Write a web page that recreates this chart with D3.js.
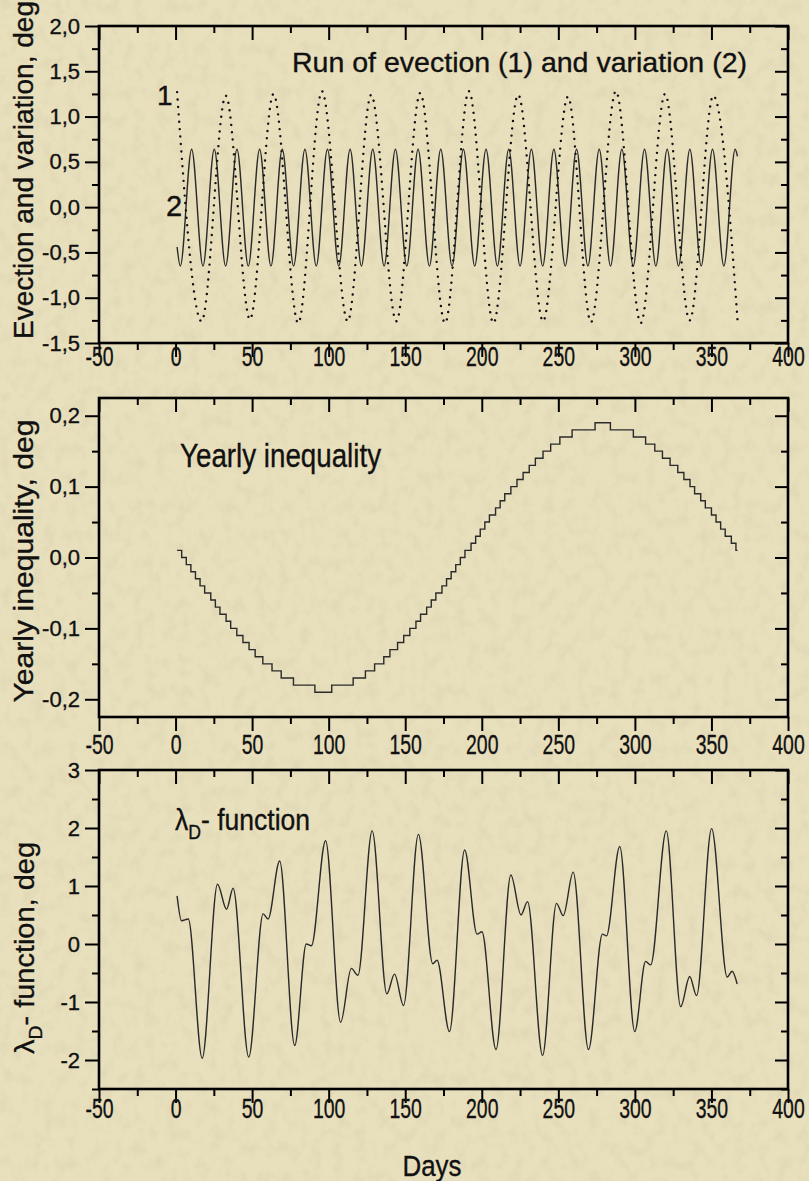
<!DOCTYPE html>
<html>
<head>
<meta charset="utf-8">
<script src="https://cdn.jsdelivr.net/npm/d3@7"></script>
<style>
  html, body { margin: 0; padding: 0; background: #e6ddb8; }
  svg { display: block; }
  text { font-family: "Liberation Sans", Arial, sans-serif; fill: #111; stroke: #111; stroke-width: 0.35px; }
</style>
</head>
<body>
<svg id="chart" width="809" height="1181"></svg>
<script>
// ---- axis ticks ----
const dayTicks = [-50, 0, 50, 100, 150, 200, 250, 300, 350, 400];
const dayMinorTicks = [-25, 25, 75, 125, 175, 225, 275, 325, 375];
const evectionTicks = [-1.5, -1.0, -0.5, 0.0, 0.5, 1.0, 1.5, 2.0];
const evectionMinorTicks = [-1.25, -0.75, -0.25, 0.25, 0.75, 1.25, 1.75];
const yearlyTicks = [-0.2, -0.1, 0.0, 0.1, 0.2];
const yearlyMinorTicks = [-0.15, -0.05, 0.05, 0.15];
const lambdaTicks = [-2, -1, 0, 1, 2, 3];
const lambdaMinorTicks = [-2.5, -1.5, -0.5, 0.5, 1.5, 2.5];

// ---- evection (1): turning points, deg ----
const evectionDays = [1, 17, 32.8, 48.6, 64, 80.1, 95.6, 112.4, 127.8, 144.2, 159.8, 176,
  191.6, 207.6, 223.8, 240, 256.3, 271.3, 287.6, 303.8, 319.7, 335.8, 351.2, 367];
const evectionValues = [1.27, -1.26, 1.23, -1.24, 1.25, -1.28, 1.28, -1.26, 1.24, -1.26, 1.26, -1.28,
  1.28, -1.28, 1.24, -1.26, 1.22, -1.27, 1.28, -1.28, 1.25, -1.25, 1.23, -1.24];

// ---- variation (2): turning points, deg ----
const variationDays = [1, 3.1, 10.5, 17.9, 25.3, 32.7, 40.1, 47.5, 54.9, 62.3, 69.7, 77.1, 84.5,
  91.9, 99.2, 106.6, 114.0, 121.4, 128.8, 136.2, 143.6, 151.0, 158.4, 165.8, 173.2, 180.6, 188.0,
  195.4, 202.8, 210.2, 217.6, 225.0, 232.4, 239.8, 247.1, 254.5, 261.9, 269.3, 276.7, 284.1, 291.5,
  298.9, 306.3, 313.7, 321.1, 328.5, 335.9, 343.3, 350.7, 358.1, 365.5, 367];
const variationValues = [-0.44, -0.65, 0.64, -0.65, 0.64, -0.65, 0.64, -0.65, 0.64, -0.65, 0.64, -0.65, 0.64,
  -0.65, 0.64, -0.65, 0.64, -0.65, 0.64, -0.65, 0.64, -0.65, 0.64, -0.65, 0.64, -0.65, 0.64,
  -0.65, 0.64, -0.65, 0.64, -0.65, 0.64, -0.65, 0.64, -0.65, 0.64, -0.65, 0.64, -0.65, 0.64,
  -0.65, 0.64, -0.65, 0.64, -0.65, 0.64, -0.65, 0.64, -0.65, 0.64, 0.56];

// ---- yearly inequality: day on which each 0.01-deg level starts ----
const yearlyDays = [1, 4, 7, 10, 13, 16, 19, 23, 26, 29, 33, 36, 40, 44, 48, 52, 57, 63, 69, 77, 91,
  102, 116, 124, 130, 136, 140, 145, 149, 153, 157, 160, 164, 167, 170, 174, 177, 180, 183, 186,
  189, 193, 196, 199, 202, 205, 209, 212, 215, 219, 223, 227, 231, 235, 240, 245, 251, 259, 274,
  284, 299, 307, 313, 318, 323, 328, 332, 336, 339, 343, 346, 350, 353, 356, 359, 363, 366, 367];
const yearlyValues = [0.01, 0.00, -0.01, -0.02, -0.03, -0.04, -0.05, -0.06, -0.07, -0.08, -0.09, -0.10,
  -0.11, -0.12, -0.13, -0.14, -0.15, -0.16, -0.17, -0.18, -0.19,
  -0.18, -0.17, -0.16, -0.15, -0.14, -0.13, -0.12, -0.11, -0.10, -0.09, -0.08, -0.07, -0.06, -0.05,
  -0.04, -0.03, -0.02, -0.01, 0.00,
  0.01, 0.02, 0.03, 0.04, 0.05, 0.06, 0.07, 0.08, 0.09, 0.10, 0.11, 0.12, 0.13, 0.14, 0.15, 0.16,
  0.17, 0.18, 0.19,
  0.18, 0.17, 0.16, 0.15, 0.14, 0.13, 0.12, 0.11, 0.10, 0.09, 0.08, 0.07, 0.06, 0.05, 0.04, 0.03,
  0.02, 0.01, 0.01];

// ---- lambda_D function: turning points and shoulders, deg ----
const lambdaDays = [1, 3.9, 8.3, 17.4, 27.4, 33.3, 37.6, 47.8, 57.2, 60.4, 68.0, 77.8, 85.4, 88.7,
  98.0, 107.8, 114.8, 119.1, 128.4, 138.0, 143.0, 148.9, 158.6, 168.0, 170.8, 178.9, 188.8, 196.9,
  200.1, 209.3, 219.0, 225.6, 229.9, 239.7, 248.8, 253.2, 259.7, 269.7, 278.8, 281.4, 290.1, 299.9,
  307.0, 310.3, 320.5, 329.9, 335.8, 340.3, 350.1, 360.3, 363.5, 366.8];
const lambdaValues = [0.83, 0.40, 0.43, -1.97, 1.03, 0.60, 0.96, -1.95, 0.52, 0.43, 1.43, -1.75, 0.00, -0.03,
  1.78, -1.35, -0.42, -0.54, 1.95, -0.86, -0.52, -1.06, 1.89, -0.34, -0.28, -1.51, 1.62, 0.17,
  0.21, -1.82, 1.19, 0.50, 0.73, -1.92, 0.70, 0.49, 1.24, -1.82, 0.17, 0.14, 1.68, -1.51,
  -0.30, -0.36, 1.95, -1.08, -0.56, -0.89, 1.99, -0.57, -0.47, -0.69];

// ---- layout ----
const W = 809, H = 1181;
const L = 99, R = 788;
const svg = d3.select("#chart");

// paper-like background with a fine grain
const defs = svg.append("defs");
const paper = defs.append("filter").attr("id", "paper").attr("x", 0).attr("y", 0)
  .attr("width", "100%").attr("height", "100%");
paper.append("feTurbulence").attr("type", "fractalNoise").attr("baseFrequency", "0.09 0.07")
  .attr("numOctaves", 3).attr("seed", 5);
paper.append("feColorMatrix").attr("type", "matrix")
  .attr("values", "0 0 0 0 0.50  0 0 0 0 0.46  0 0 0 0 0.32  1.4 0 0 0 -0.62");
svg.append("rect").attr("width", W).attr("height", H).attr("fill", "#e8dfbc");
svg.append("rect").attr("width", W).attr("height", H).attr("filter", "url(#paper)").attr("opacity", 0.28);

const x = d3.scaleLinear().domain([-50, 400]).range([L, R]);

const locale = d3.formatLocale({ decimal: ",", thousands: ".", grouping: [3], currency: ["", ""], minus: "-" });
const fmtTenth = locale.format(".1f");
const fmtInt = locale.format("d");

function styleAxis(sel) {
  sel.select(".domain").remove();
  sel.selectAll(".tick line").attr("stroke", "#000").attr("stroke-width", 2);
  sel.attr("font-family", null).attr("font-size", null);
}

function panel(cfg) {
  const y = d3.scaleLinear().domain(cfg.domain).range([cfg.bottom, cfg.top]);
  const g = svg.append("g");

  // left axis (outward ticks, labelled)
  const left = g.append("g").attr("transform", `translate(${L},0)`)
    .call(d3.axisLeft(y).tickValues(cfg.ticks).tickFormat(cfg.fmt).tickSizeInner(14).tickSizeOuter(0).tickPadding(5))
    .call(styleAxis);
  left.selectAll("text").attr("font-size", 22).attr("fill", "#111");
  g.append("g").attr("transform", `translate(${L},0)`)
    .call(d3.axisLeft(y).tickValues(cfg.minor).tickFormat("").tickSizeInner(7).tickSizeOuter(0))
    .call(styleAxis);

  // right axis (inward ticks)
  g.append("g").attr("transform", `translate(${R},0)`)
    .call(d3.axisRight(y).tickValues(cfg.ticks).tickFormat("").tickSizeInner(-13).tickSizeOuter(0))
    .call(styleAxis);
  g.append("g").attr("transform", `translate(${R},0)`)
    .call(d3.axisRight(y).tickValues(cfg.minor).tickFormat("").tickSizeInner(-7).tickSizeOuter(0))
    .call(styleAxis);

  // top axis (inward ticks)
  g.append("g").attr("transform", `translate(0,${cfg.top})`)
    .call(d3.axisTop(x).tickValues(dayTicks).tickFormat("").tickSizeInner(-14).tickSizeOuter(0))
    .call(styleAxis);
  g.append("g").attr("transform", `translate(0,${cfg.top})`)
    .call(d3.axisTop(x).tickValues(dayMinorTicks).tickFormat("").tickSizeInner(-7).tickSizeOuter(0))
    .call(styleAxis);

  // bottom axis (outward ticks, labelled)
  const bottom = g.append("g").attr("transform", `translate(0,${cfg.bottom})`)
    .call(d3.axisBottom(x).tickValues(dayTicks).tickFormat(fmtInt).tickSizeInner(14).tickSizeOuter(0).tickPadding(cfg.xPad))
    .call(styleAxis);
  bottom.selectAll("text").attr("font-size", 27).attr("fill", "#111")
    .attr("transform", "scale(0.72,1)");
  g.append("g").attr("transform", `translate(0,${cfg.bottom})`)
    .call(d3.axisBottom(x).tickValues(dayMinorTicks).tickFormat("").tickSizeInner(7).tickSizeOuter(0))
    .call(styleAxis);

  // frame
  g.append("rect").attr("x", L).attr("y", cfg.top).attr("width", R - L).attr("height", cfg.bottom - cfg.top)
    .attr("fill", "none").attr("stroke", "#000").attr("stroke-width", 2.6);

  return { g, y };
}

// ---- panel 1: evection and variation ----
const p1 = panel({ top: 26, bottom: 343, domain: [-1.5, 2.0], ticks: evectionTicks, minor: evectionMinorTicks, fmt: fmtTenth, xPad: -10 });
const smooth1 = d3.line().x(d => x(d[0])).y(d => p1.y(d[1])).curve(d3.curveMonotoneX);
p1.g.append("path").datum(d3.zip(variationDays, variationValues)).attr("d", smooth1)
  .attr("fill", "none").attr("stroke", "#2a2a2a").attr("stroke-width", 1.4);
p1.g.append("path").datum(d3.zip(evectionDays, evectionValues)).attr("d", smooth1)
  .attr("fill", "none").attr("stroke", "#111").attr("stroke-width", 2.4)
  .attr("stroke-linecap", "round").attr("stroke-dasharray", "0.01,7.4");
p1.g.append("text").attr("x", 292).attr("y", 72).attr("font-size", 27.5)
  .attr("textLength", 455).attr("lengthAdjust", "spacingAndGlyphs")
  .text("Run  of  evection (1)  and  variation (2)");
p1.g.append("text").attr("x", 157).attr("y", 105).attr("font-size", 28).text("1");
p1.g.append("text").attr("x", 166).attr("y", 216).attr("font-size", 29).text("2");
svg.append("text").attr("transform", "translate(33,170) rotate(-90)").attr("text-anchor", "middle")
  .attr("font-size", 27).attr("textLength", 338).attr("lengthAdjust", "spacingAndGlyphs")
  .text("Evection  and  variation,  deg");

// ---- panel 2: yearly inequality ----
const p2 = panel({ top: 398, bottom: 717, domain: [-0.225, 0.225], ticks: yearlyTicks, minor: yearlyMinorTicks, fmt: fmtTenth, xPad: 4 });
const steps2 = d3.line().x(d => x(d[0])).y(d => p2.y(d[1])).curve(d3.curveStepAfter);
p2.g.append("path").datum(d3.zip(yearlyDays, yearlyValues)).attr("d", steps2)
  .attr("fill", "none").attr("stroke", "#2a2a2a").attr("stroke-width", 1.4);
p2.g.append("text").attr("x", 180).attr("y", 467).attr("font-size", 33)
  .attr("textLength", 201).attr("lengthAdjust", "spacingAndGlyphs")
  .text("Yearly  inequality");
svg.append("text").attr("transform", "translate(33,561) rotate(-90)").attr("text-anchor", "middle")
  .attr("font-size", 27).attr("textLength", 283).attr("lengthAdjust", "spacingAndGlyphs")
  .text("Yearly  inequality,  deg");

// ---- panel 3: lambda_D function ----
const p3 = panel({ top: 770, bottom: 1089, domain: [-2.5, 3], ticks: lambdaTicks, minor: lambdaMinorTicks, fmt: fmtInt, xPad: -4 });
const smooth3 = d3.line().x(d => x(d[0])).y(d => p3.y(d[1])).curve(d3.curveMonotoneX);
p3.g.append("path").datum(d3.zip(lambdaDays, lambdaValues)).attr("d", smooth3)
  .attr("fill", "none").attr("stroke", "#2a2a2a").attr("stroke-width", 1.4);
const t3 = p3.g.append("text").attr("x", 175).attr("y", 830).attr("font-size", 30)
  .attr("textLength", 135).attr("lengthAdjust", "spacingAndGlyphs");
t3.append("tspan").text("λ");
t3.append("tspan").attr("font-size", 20).attr("dy", 9).text("D");
t3.append("tspan").attr("dy", -9).text("- function");
const yt3 = svg.append("text").attr("transform", "translate(34,948) rotate(-90)").attr("text-anchor", "middle")
  .attr("font-size", 27).attr("textLength", 212).attr("lengthAdjust", "spacingAndGlyphs");
yt3.append("tspan").text("λ");
yt3.append("tspan").attr("font-size", 18).attr("dy", 8).text("D");
yt3.append("tspan").attr("dy", -8).text("- function,  deg");

svg.append("text").attr("x", 432).attr("y", 1176).attr("text-anchor", "middle").attr("font-size", 30)
  .attr("textLength", 59).attr("lengthAdjust", "spacingAndGlyphs").text("Days");
</script>
</body>
</html>
